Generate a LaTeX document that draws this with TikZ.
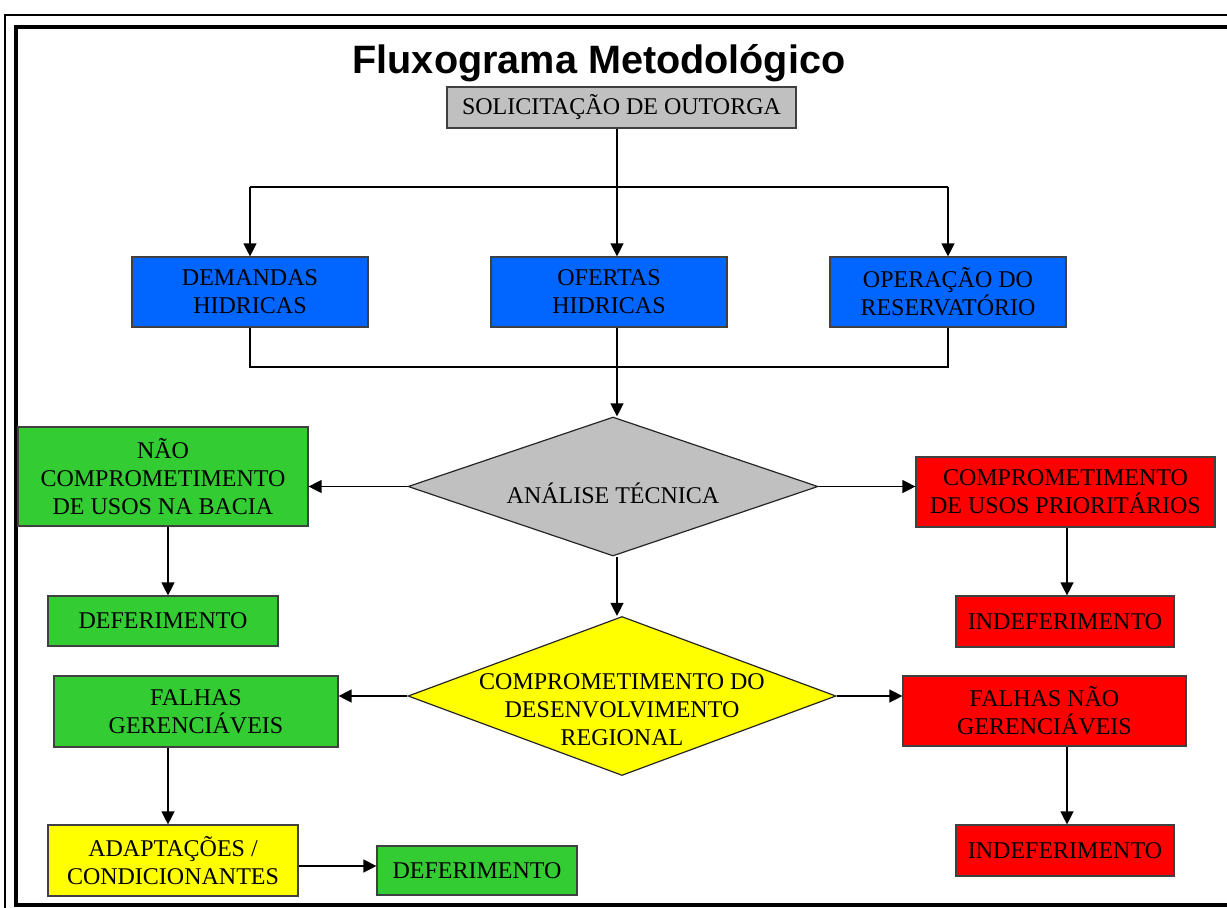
\documentclass[tikz,border=0pt]{standalone}
\usepackage{fontspec}
\setmainfont{Liberation Serif}
\newfontfamily\titlefont{Liberation Sans}
\usetikzlibrary{shapes.geometric,arrows.meta}

\definecolor{cinza}{HTML}{C0C0C0}
\definecolor{azul}{HTML}{0066FF}
\definecolor{verde}{HTML}{33CC33}
\definecolor{vermelho}{HTML}{FF0000}
\definecolor{amarelo}{HTML}{FFFF00}

\tikzset{
  caixa/.style={draw=black!75,line width=0.6pt,inner sep=0pt,align=center,
    font=\fontsize{12}{14}\selectfont},
  losango/.style={diamond,draw=black!85,line width=0.6pt,inner sep=0pt},
  rotulo/.style={align=center,inner sep=0pt,font=\fontsize{12}{14}\selectfont},
  linha/.style={line width=0.65pt},
  seta/.style={linha,-{Triangle[length=6.5pt,width=6.5pt]}}
}

\begin{document}
\begin{tikzpicture}[x=0.5pt,y=-0.5pt]
  \useasboundingbox (0,0) rectangle (1227,907);
  \clip (0,0) rectangle (1227,907);
  % moldura
  \draw[line width=1pt] (5,15) rectangle (1240,925);
  \draw[line width=2pt] (16,26.5) rectangle (1236,905);

  \node[anchor=base,inner sep=0pt,font=\titlefont\bfseries\fontsize{19.8}{22}\selectfont] (titulo) at (599,73) {Fluxograma Metodológico};

  % linha de referencia
  \coordinate (eixo) at (617,0);
  \coordinate (colesq) at (168,0);
  \coordinate (coldir) at (1067,0);
  \coordinate (ramo) at (0,187);
  \coordinate (junta) at (617,367);
  \coordinate (linhaada) at (0,866);

  \node[caixa,fill=cinza,minimum width=174.5pt,minimum height=20.5pt] (sol) at (621.5,107.5) {SOLICITAÇÃO DE OUTORGA};

  \node[caixa,fill=azul,minimum width=118pt,minimum height=35pt] (dem) at (250,292) {DEMANDAS\\HIDRICAS};
  \node[caixa,fill=azul,minimum width=118pt,minimum height=35pt] (ofe) at (609,292) {OFERTAS\\HIDRICAS};
  \node[caixa,fill=azul,minimum width=118pt,minimum height=35pt] (ope) at (948,292) {OPERAÇÃO DO\\RESERVATÓRIO};

  \node[losango,fill=cinza,minimum width=205pt,minimum height=69.5pt] (an) at (613,486.5) {};
  \node[rotulo] (antexto) at (613,493) {ANÁLISE TÉCNICA};

  \node[caixa,fill=verde,minimum width=145pt,minimum height=49.5pt] (nao) at (163,476.5) {NÃO\\COMPROMETIMENTO\\DE USOS NA BACIA};
  \node[caixa,fill=vermelho,minimum width=149.5pt,minimum height=35pt] (cup) at (1065.5,492) {COMPROMETIMENTO\\DE USOS PRIORITÁRIOS};

  \node[caixa,fill=verde,minimum width=115pt,minimum height=25pt] (def1) at (163,621) {DEFERIMENTO};
  \node[caixa,fill=vermelho,minimum width=109pt,minimum height=25.5pt] (ind1) at (1065,621.5) {INDEFERIMENTO};

  \node[losango,fill=amarelo,minimum width=214pt,minimum height=79.5pt] (dr) at (622,696) {};
  \node[rotulo] (drtexto) at (622,710) {COMPROMETIMENTO DO\\DESENVOLVIMENTO\\REGIONAL};

  \node[caixa,fill=verde,minimum width=142pt,minimum height=35.5pt] (fg) at (196,711.5) {FALHAS\\GERENCIÁVEIS};
  \node[caixa,fill=vermelho,minimum width=141.5pt,minimum height=35pt] (fng) at (1044.5,711) {FALHAS NÃO\\GERENCIÁVEIS};

  \node[caixa,fill=amarelo,minimum width=125pt,minimum height=35.5pt] (ada) at (173,860.5) {ADAPTAÇÕES /\\CONDICIONANTES};
  \node[caixa,fill=verde,minimum width=100pt,minimum height=24.5pt] (def2) at (477,870.5) {DEFERIMENTO};
  \node[caixa,fill=vermelho,minimum width=109pt,minimum height=25.5pt] (ind2) at (1065,850.5) {INDEFERIMENTO};

  % conectores
  \draw[seta] (sol.south -| eixo) -- (ofe.north -| eixo);
  \draw[linha] (dem.north |- ramo) -- (ope.north |- ramo);
  \draw[seta] (dem.north |- ramo) -- (dem.north);
  \draw[seta] (ope.north |- ramo) -- (ope.north);
  \draw[linha] (dem.south) |- (junta) -| (ope.south);
  \draw[linha] (ofe.south -| eixo) -- (junta);
  \draw[seta] (junta) -- (an.north -| eixo);

  \draw[seta] (an.west) -- (an.west -| nao.east);
  \draw[seta] (an.east) -- (an.east -| cup.west);
  \draw[seta] (nao.south -| colesq) -- (def1.north -| colesq);
  \draw[seta] (cup.south -| coldir) -- (ind1.north -| coldir);
  \draw[seta] (an.south -| eixo) -- (dr.north -| eixo);

  \draw[seta] (dr.west) -- (dr.west -| fg.east);
  \draw[seta] (dr.east) -- (dr.east -| fng.west);
  \draw[seta] (fg.south -| colesq) -- (ada.north -| colesq);
  \draw[seta] (fng.south -| coldir) -- (ind2.north -| coldir);
  \draw[seta] (ada.east |- linhaada) -- (def2.west |- linhaada);
\end{tikzpicture}
\end{document}
